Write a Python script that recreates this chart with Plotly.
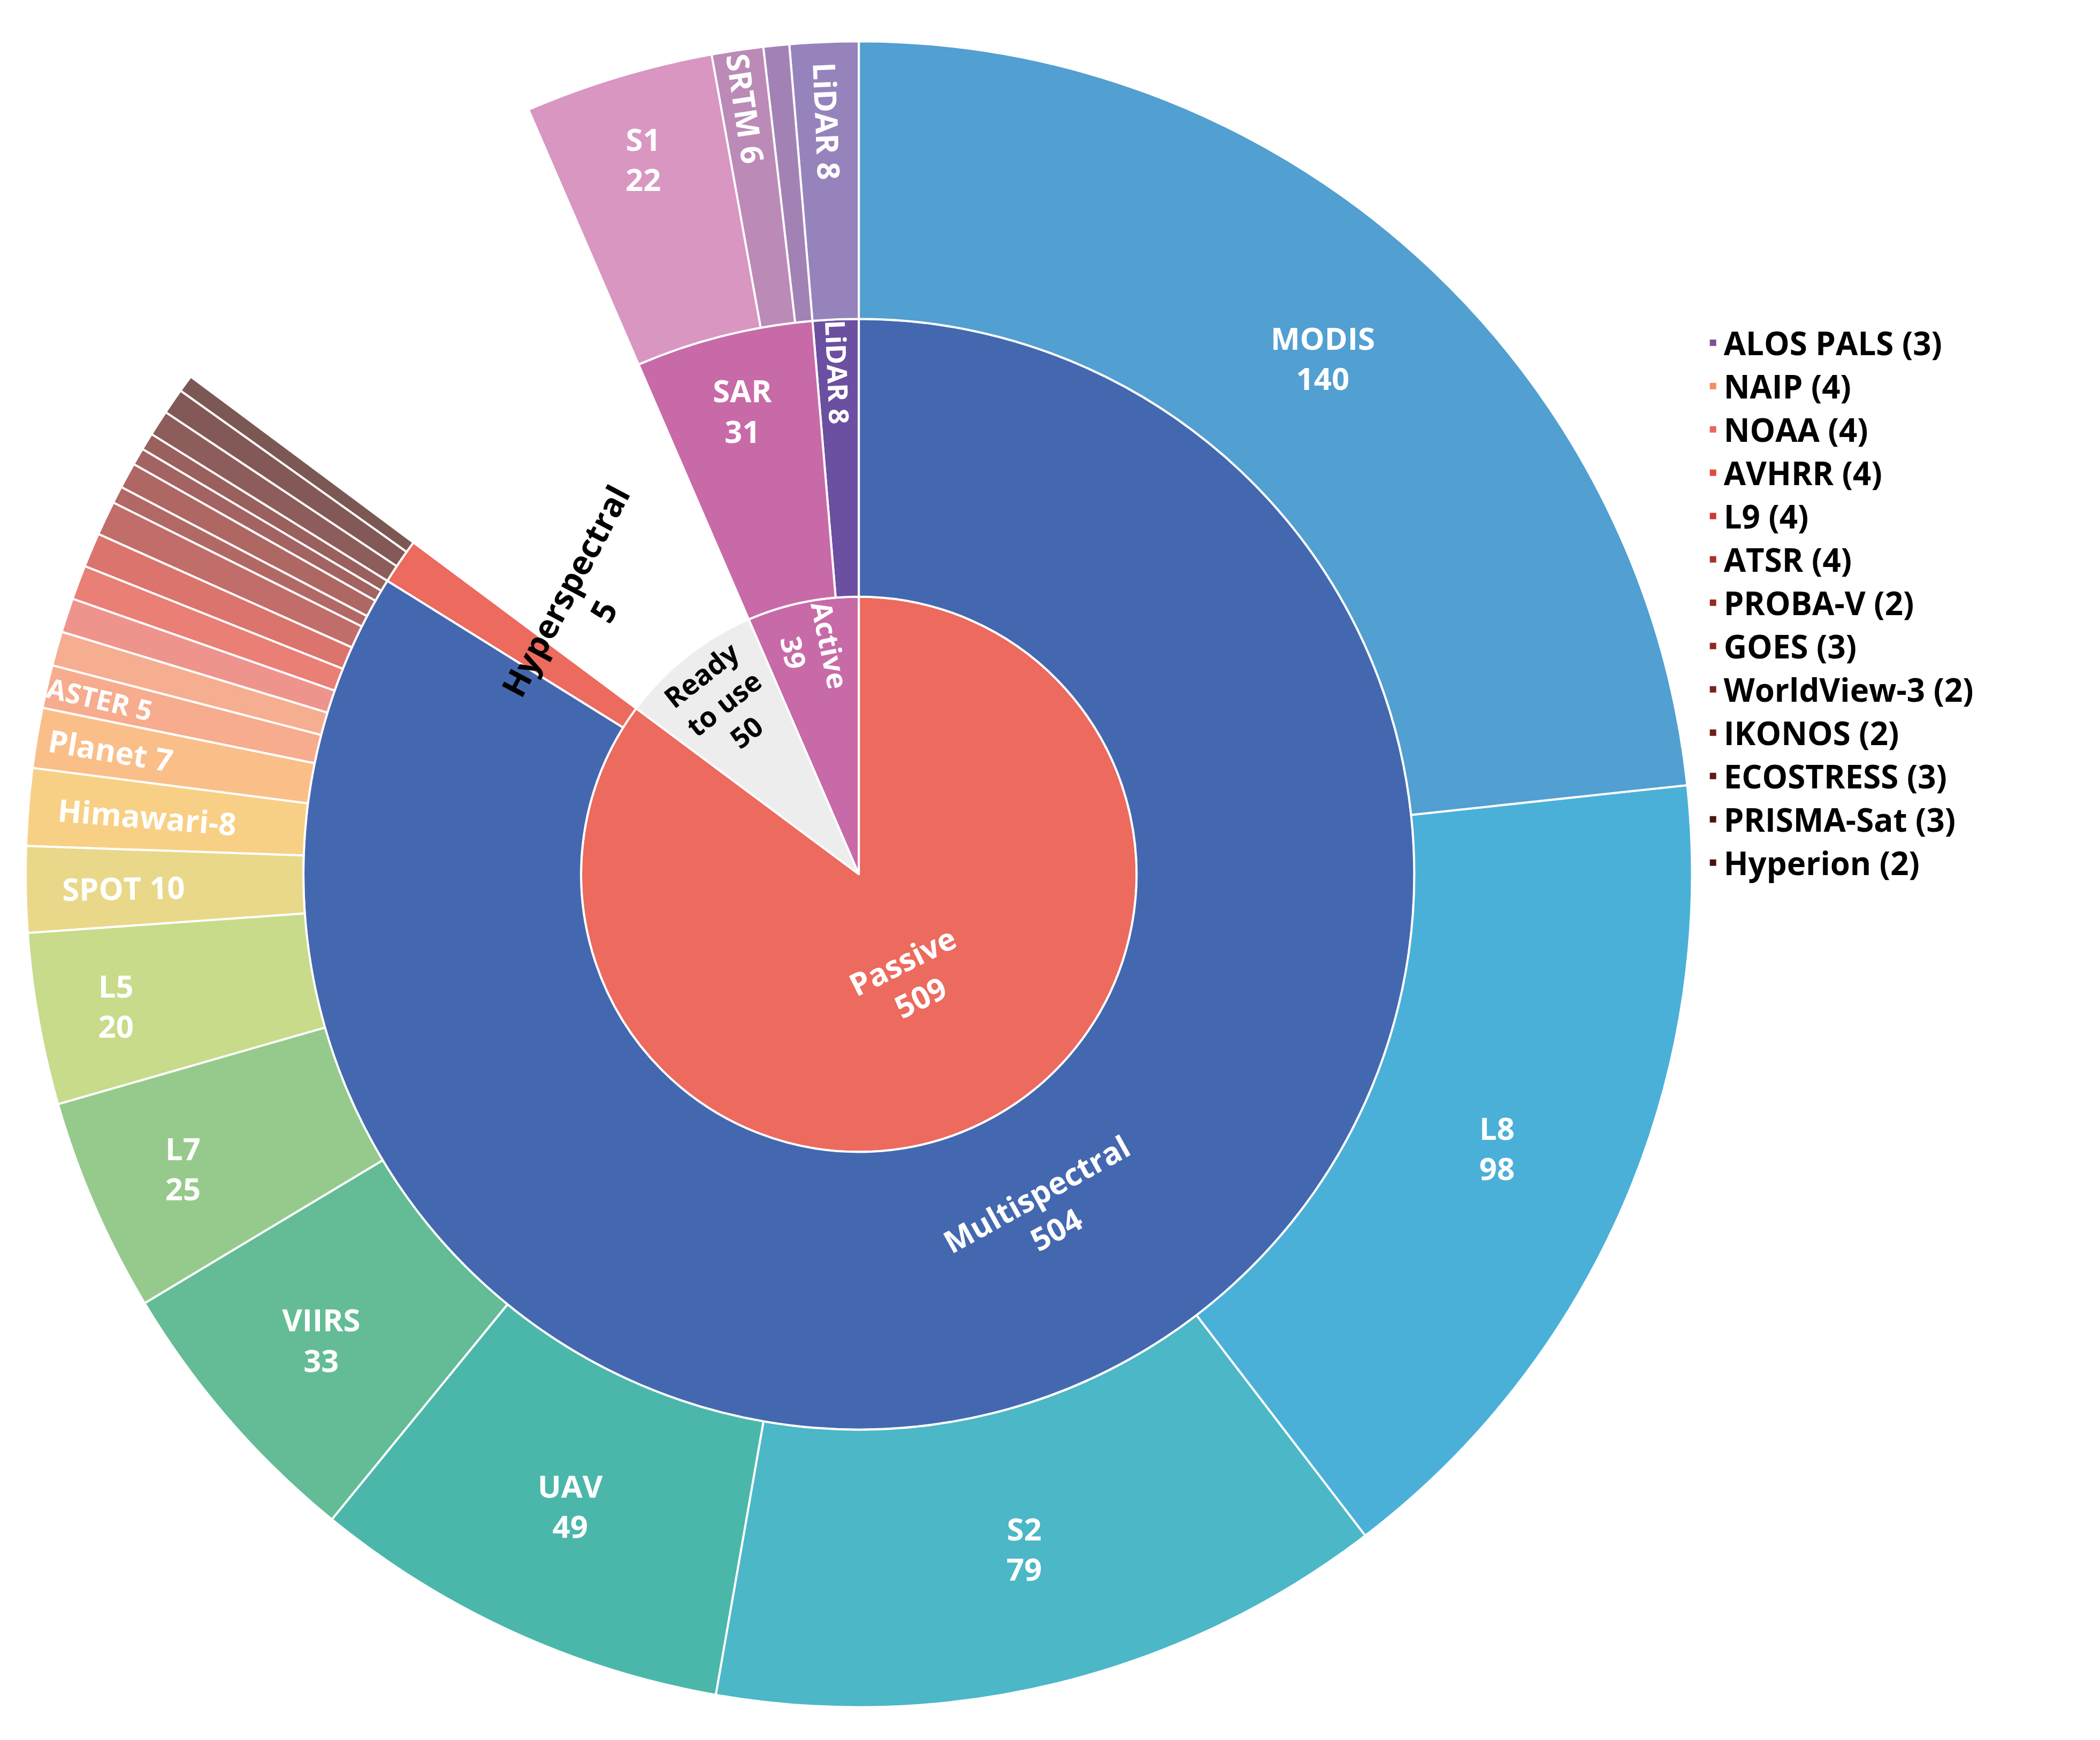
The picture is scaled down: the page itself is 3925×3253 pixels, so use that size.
import plotly.graph_objects as go

ids = ["Active","Ready","Passive",
       "Active/LiDAR","Active/SAR",
       "Active/LiDAR/LiDAR","Active/SAR/ALOS","Active/SAR/SRTM","Active/SAR/S1",
       "Passive/Hyper","Passive/Multi",
       "Passive/Hyper/Hyperion","Passive/Hyper/PRISMA","Passive/Hyper/ECOSTRESS",
       "Passive/Multi/IKONOS","Passive/Multi/WV3","Passive/Multi/GOES","Passive/Multi/PROBA",
       "Passive/Multi/ATSR","Passive/Multi/L9","Passive/Multi/AVHRR","Passive/Multi/NOAA",
       "Passive/Multi/NAIP","Passive/Multi/ASTER","Passive/Multi/Planet","Passive/Multi/Himawari",
       "Passive/Multi/SPOT","Passive/Multi/L5","Passive/Multi/L7","Passive/Multi/VIIRS",
       "Passive/Multi/UAV","Passive/Multi/S2","Passive/Multi/L8","Passive/Multi/MODIS"]
labels = ["Active","Ready to use","Passive","LiDAR","SAR","LiDAR","ALOS PALS","SRTM","S1",
          "Hyperspectral","Multispectral","Hyperion","PRISMA-Sat","ECOSTRESS",
          "IKONOS","WorldView-3","GOES","PROBA-V","ATSR","L9","AVHRR","NOAA","NAIP","ASTER",
          "Planet","Himawari-8","SPOT","L5","L7","VIIRS","UAV","S2","L8","MODIS"]
parents = ["","","","Active","Active","Active/LiDAR","Active/SAR","Active/SAR","Active/SAR",
           "Passive","Passive"] + ["Passive/Hyper"]*3 + ["Passive/Multi"]*20
values = [0,50,0,0,0,8,3,6,22,0,0,2,3,3,
          2,2,3,2,4,4,4,4,4,5,7,9,10,20,25,33,49,79,98,140]
texts = ["<b>Active<br>39</b>","<b>Ready<br>to use<br>50</b>","<b>Passive<br>509</b>",
         "<b>LiDAR 8</b>","<b>SAR<br>31</b>","<b>LiDAR 8</b>","","<b>SRTM 6</b>","<b>S1<br>22</b>",
         "","<b>Multispectral<br>504</b>","","","",
         "","","","","","","","","","<b>ASTER 5</b>","<b>Planet 7</b>","<b>Himawari-8</b>",
         "<b>SPOT 10</b>","<b>L5<br>20</b>","<b>L7<br>25</b>","<b>VIIRS<br>33</b>","<b>UAV<br>49</b>",
         "<b>S2<br>79</b>","<b>L8<br>98</b>","<b>MODIS<br>140</b>"]
colors = ["#C86AA8","#E6E6E6","#EC6A5E","#6B4FA0","#C86AA8","#6B4FA0","#7C4E96","#A15A9A","#C86AA8",
          "#EC6A5E","#4468B0","#46120E","#4E1410","#5E1A16",
          "#6E1E1A","#7C2220","#8E2823","#922A26","#A8302B","#CC3A30","#E04A3C","#E8675E","#F38D62",
          "#F48A5E","#F8A458","#F6BD52","#E0C858","#B0CC5A","#6AB55E","#22A06A","#009A88",
          "#009AB0","#0090C8","#0A77BE"]
text_colors = ["white","black"] + ["white"]*32

legend_names = ["ALOS PALS (3)","NAIP (4)","NOAA (4)","AVHRR (4)","L9 (4)","ATSR (4)","PROBA-V (2)",
                "GOES (3)","WorldView-3 (2)","IKONOS (2)","ECOSTRESS (3)","PRISMA-Sat (3)","Hyperion (2)"]
legend_colors = ["#7C4E96","#F38D62","#E8675E","#E04A3C","#CC3A30","#A8302B","#922A26",
                 "#8E2823","#7C2220","#6E1E1A","#5E1A16","#4E1410","#46120E"]

fig = go.Figure()
fig.add_trace(go.Sunburst(ids=ids, labels=labels, parents=parents, values=values,
    branchvalues="remainder", sort=False, rotation=90,
    text=texts, texttemplate="%{text}", insidetextorientation="auto",
    marker=dict(colors=colors, line=dict(color="white", width=4)),
    textfont=dict(family="Open Sans", size=58, color=text_colors),
    domain=dict(x=[0.0, 0.81], y=[0.0, 1.0])))
for n, c in zip(legend_names, legend_colors):
    fig.add_trace(go.Scatter(x=[None], y=[None], mode="markers", name="<b>"+n+"</b>",
        marker=dict(symbol="square", size=60, color=c)))
fig.add_annotation(x=0.225, y=0.735, xref="paper", yref="paper", text="<b>Hyperspectral<br>5</b>",
    textangle=-62, showarrow=False, font=dict(family="Open Sans", size=62, color="black"))
fig.update_layout(width=3925, height=3253, paper_bgcolor="white", plot_bgcolor="white",
    margin=dict(l=40, r=40, t=40, b=40), showlegend=True,
    xaxis=dict(visible=False), yaxis=dict(visible=False),
    legend=dict(x=0.815, y=0.66, yanchor="middle", xanchor="left",
                font=dict(family="Open Sans", size=60, color="black"),
                itemsizing="constant", tracegroupgap=0))
fig.write_html("out.html")
